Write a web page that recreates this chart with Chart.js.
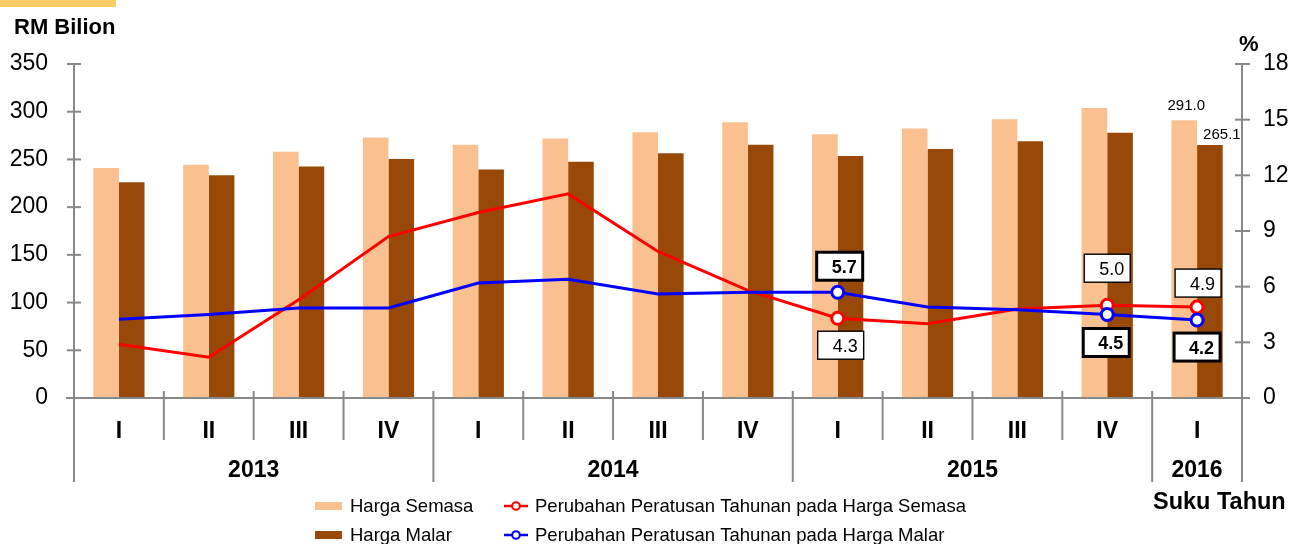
<!DOCTYPE html>
<html><head><meta charset="utf-8">
<script src="https://cdn.jsdelivr.net/npm/chart.js@4.4.1/dist/chart.umd.min.js"></script>
<style>html,body{margin:0;padding:0;background:#fff;overflow:hidden}#wrap{position:relative;width:1291px;height:544px}</style>
</head><body><div id="wrap"><canvas id="c" width="1291" height="544"></canvas></div>
<script>
const categories = ['I','II','III','IV','I','II','III','IV','I','II','III','IV','I'];
const years = ['2013','2014','2015','2016'];
const yearSpans = [4,4,4,1];
const hargaSemasa = [241.0, 244.5, 258.0, 273.0, 265.5, 272.0, 278.5, 289.0, 276.5, 282.5, 292.0, 304.0, 291.0];
const hargaMalar  = [226.0, 233.5, 242.5, 250.5, 239.5, 247.5, 256.5, 265.5, 253.5, 261.0, 269.0, 278.0, 265.1];
const pctSemasa = [2.9, 2.2, 5.3, 8.7, 10.0, 11.0, 7.9, 5.8, 4.3, 4.0, 4.8, 5.0, 4.9];
const pctMalar  = [4.25, 4.5, 4.85, 4.85, 6.2, 6.4, 5.6, 5.7, 5.7, 4.9, 4.75, 4.5, 4.2];
const leftTicks = [0, 50, 100, 150, 200, 250, 300, 350];
const rightTicks = [0, 3, 6, 9, 12, 15, 18];
const markedPoints = [8, 11, 12];

const FONT = "'Liberation Sans', Arial, Helvetica, sans-serif";
Chart.defaults.font.family = FONT;
Chart.defaults.color = '#000';

const PEACH = '#FAC090', BROWN = '#984807', GREY = '#888888';

const radii = categories.map((c, i) => markedPoints.includes(i) ? 6 : 0);

// label boxes: dataset index, point index, placement
const boxLabels = [
  {ds: 3, i: 8, pos: 'above', gap: 12, dx: 2, bold: true},
  {ds: 2, i: 8, pos: 'below', gap: 13, dx: 3, bold: false},
  {ds: 2, i: 11, pos: 'above', gap: 23, dx: 0, bold: false},
  {ds: 3, i: 11, pos: 'below', gap: 14, dx: -1, bold: true},
  {ds: 2, i: 12, pos: 'above', gap: 10, dx: 1, bold: false},
  {ds: 3, i: 12, pos: 'below', gap: 13, dx: 0, bold: true}
];

const decorPlugin = {
  id: 'decor',
  afterDatasetsDraw(chart) {
    const ctx = chart.ctx;
    ctx.save();
    ctx.font = '15px ' + FONT;
    ctx.fillStyle = '#000';
    ctx.textAlign = 'center';
    ctx.textBaseline = 'middle';
    const last = categories.length - 1;
    const b0 = chart.getDatasetMeta(0).data[last];
    const b1 = chart.getDatasetMeta(1).data[last];
    ctx.fillText(hargaSemasa[last].toFixed(1), b0.x + 2, b0.y - 14);
    ctx.fillText(hargaMalar[last].toFixed(1), b1.x + 12, b1.y - 10);
    const dataArr = {2: pctSemasa, 3: pctMalar};
    boxLabels.forEach(l => {
      const p = chart.getDatasetMeta(l.ds).data[l.i];
      const w = 46, h = 28;
      const cx = p.x + l.dx;
      const top = l.pos === 'above' ? p.y - l.gap - h : p.y + l.gap;
      const left = cx - w / 2;
      ctx.fillStyle = '#fff';
      ctx.fillRect(left, top, w, h);
      ctx.lineWidth = l.bold ? 3 : 1.4;
      ctx.strokeStyle = '#000';
      ctx.strokeRect(left, top, w, h);
      ctx.fillStyle = '#000';
      ctx.font = (l.bold ? 'bold ' : '') + '18px ' + FONT;
      ctx.textAlign = 'right';
      ctx.textBaseline = 'middle';
      ctx.fillText(dataArr[l.ds][l.i].toFixed(1), left + w - 6, top + h / 2 + 2);
    });
    ctx.restore();
  },
  afterDraw(chart) {
    const ctx = chart.ctx;
    const xs = chart.scales.x, yL = chart.scales.y, yR = chart.scales.y1;
    const a = chart.chartArea;
    const line = (x1, y1, x2, y2) => { ctx.beginPath(); ctx.moveTo(x1, y1); ctx.lineTo(x2, y2); ctx.stroke(); };
    ctx.save();
    ctx.strokeStyle = GREY;
    ctx.lineWidth = 2;
    line(a.left, yL.getPixelForValue(leftTicks[leftTicks.length - 1]), a.left, a.bottom);
    leftTicks.forEach(v => { const p = yL.getPixelForValue(v); line(a.left - 7, p, a.left + 7, p); });
    line(a.right, yR.getPixelForValue(rightTicks[rightTicks.length - 1]), a.right, a.bottom);
    rightTicks.forEach(v => { const p = yR.getPixelForValue(v); line(a.right - 7, p, a.right + 8, p); });
    line(a.left - 8, a.bottom, a.right + 8, a.bottom);
    const w = xs.getPixelForValue(1) - xs.getPixelForValue(0);
    const bound = i => xs.getPixelForValue(0) - w / 2 + i * w;
    const yearB = [0];
    yearSpans.forEach(s => yearB.push(yearB[yearB.length - 1] + s));
    for (let i = 0; i <= categories.length; i++) {
      const isYear = yearB.includes(i);
      line(bound(i), a.bottom - 7, bound(i), a.bottom + (isYear ? 84 : 42));
    }
    ctx.fillStyle = '#000';
    ctx.font = 'bold 23px ' + FONT;
    ctx.textAlign = 'center';
    ctx.textBaseline = 'middle';
    years.forEach((y, k) => {
      ctx.fillText(y, (bound(yearB[k]) + bound(yearB[k + 1])) / 2, a.bottom + 73);
    });
    ctx.fillStyle = '#FFCC66';
    ctx.fillRect(0, 0, 116, 7);
    ctx.fillStyle = '#000';
    ctx.textAlign = 'left';
    ctx.font = 'bold 22px ' + FONT;
    ctx.fillText('RM Bilion', 14, 28);
    ctx.fillText('%', 1239, 45);
    ctx.font = 'bold 23.5px ' + FONT;
    ctx.fillText('Suku Tahun', 1153, 503);
    ctx.font = '18.5px ' + FONT;
    ctx.fillStyle = PEACH; ctx.fillRect(315, 502, 27, 8);
    ctx.fillStyle = BROWN; ctx.fillRect(315, 531, 27, 8);
    ctx.fillStyle = '#000';
    ctx.fillText('Harga Semasa', 350, 507);
    ctx.fillText('Harga Malar', 350, 536);
    const mk = (y, col) => {
      ctx.strokeStyle = col; ctx.lineWidth = 2.5;
      line(504, y, 528, y);
      ctx.beginPath(); ctx.arc(516, y, 3.8, 0, Math.PI * 2);
      ctx.fillStyle = '#fff'; ctx.fill(); ctx.lineWidth = 2; ctx.stroke();
    };
    mk(506, '#FF0000');
    mk(535, '#0000FF');
    ctx.fillStyle = '#000';
    ctx.fillText('Perubahan Peratusan Tahunan pada Harga Semasa', 535, 507);
    ctx.fillText('Perubahan Peratusan Tahunan pada Harga Malar', 535, 536);
    ctx.restore();
  }
};

new Chart(document.getElementById('c'), {
  data: {
    labels: categories,
    datasets: [
      {type: 'bar', label: 'Harga Semasa', data: hargaSemasa, backgroundColor: PEACH, yAxisID: 'y', order: 2,
       categoryPercentage: 0.57, barPercentage: 1.0},
      {type: 'bar', label: 'Harga Malar', data: hargaMalar, backgroundColor: BROWN, yAxisID: 'y', order: 2,
       categoryPercentage: 0.57, barPercentage: 1.0},
      {type: 'line', label: 'Perubahan Peratusan Tahunan pada Harga Semasa', data: pctSemasa, borderColor: '#FF0000',
       borderWidth: 3, tension: 0, yAxisID: 'y1', order: 1, pointRadius: radii, pointBackgroundColor: '#fff',
       pointBorderColor: '#FF0000', pointBorderWidth: 3},
      {type: 'line', label: 'Perubahan Peratusan Tahunan pada Harga Malar', data: pctMalar, borderColor: '#0000FF',
       borderWidth: 3, tension: 0, yAxisID: 'y1', order: 0, pointRadius: radii, pointBackgroundColor: '#fff',
       pointBorderColor: '#0000FF', pointBorderWidth: 3}
    ]
  },
  options: {
    responsive: false,
    animation: false,
    layout: {padding: {top: 64, left: 0, right: 0, bottom: 0}},
    plugins: {legend: {display: false}, tooltip: {enabled: false}},
    scales: {
      x: {
        offset: true,
        grid: {display: false, drawTicks: false},
        border: {display: false},
        ticks: {font: {size: 23, weight: 'bold'}, color: '#000', padding: 20, autoSkip: false, maxRotation: 0},
        afterFit: s => { s.height = 146; }
      },
      y: {
        position: 'left', min: 0, max: 350,
        grid: {display: false, drawTicks: false},
        border: {display: false},
        ticks: {stepSize: 50, font: {size: 23}, color: '#000', padding: 26},
        afterFit: s => { s.width = 74; }
      },
      y1: {
        position: 'right', min: 0, max: 18,
        grid: {display: false, drawTicks: false},
        border: {display: false},
        ticks: {stepSize: 3, font: {size: 23}, color: '#000', padding: 21},
        afterFit: s => { s.width = 49; }
      }
    }
  },
  plugins: [decorPlugin]
});
</script>
</body></html>
